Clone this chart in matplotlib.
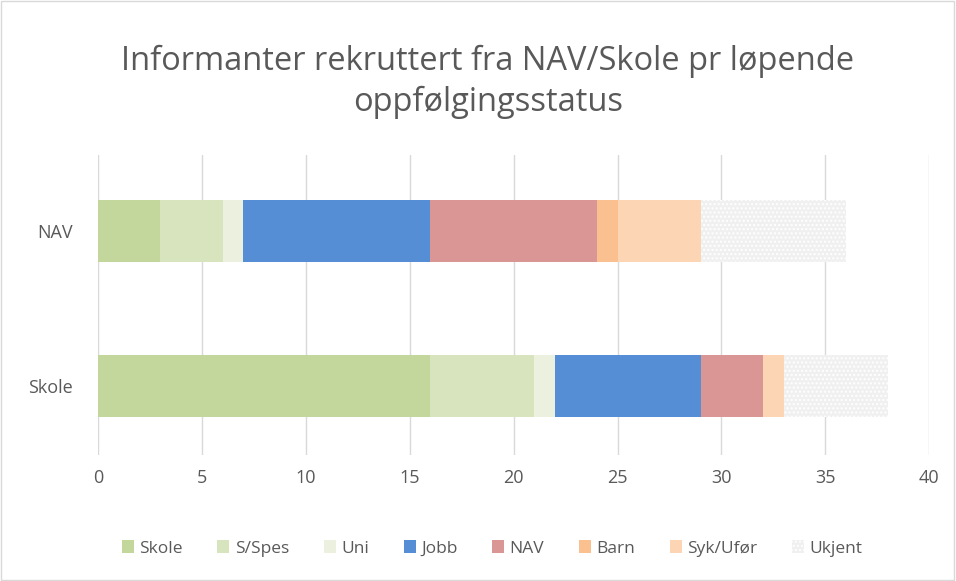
import matplotlib
matplotlib.use("Agg")
import matplotlib.pyplot as plt
from matplotlib.patches import Rectangle

categories = ["Skole", "NAV"]
series = ["Skole", "S/Spes", "Uni", "Jobb", "NAV", "Barn", "Syk/Ufør", "Ukjent"]
values = {
    "Skole":    [16, 3],
    "S/Spes":   [5, 3],
    "Uni":      [1, 1],
    "Jobb":     [7, 9],
    "NAV":      [3, 8],
    "Barn":     [0, 1],
    "Syk/Ufør": [1, 4],
    "Ukjent":   [5, 7],
}
colors = ["#c3d69b", "#d7e4bd", "#ebf1de", "#558ed5", "#d99694", "#fac090", "#fcd5b5", "#f0f0f0"]
xticks = [0, 5, 10, 15, 20, 25, 30, 35, 40]

plt.rcParams['font.family'] = ['Open Sans', 'DejaVu Sans']
plt.rcParams['hatch.color'] = 'white'
fig = plt.figure(figsize=(9.56, 5.81), dpi=100)
ax = fig.add_axes([0.1025, 0.217, 0.8695, 0.516])

left = [0, 0]
for s, c in zip(series, colors):
    v = values[s]
    if s == "Ukjent":
        kw = dict(hatch="....", edgecolor="white", linewidth=0)
    else:
        kw = dict(edgecolor="none", linewidth=0)
    ax.barh(range(len(categories)), v, left=left, height=0.4, color=c, label=s, **kw)
    left = [a + b for a, b in zip(left, v)]

ax.set_xlim(0, 40)
ax.set_ylim(-0.445, 1.49)
ax.set_xticks(xticks)
ax.set_yticks(range(len(categories)))
ax.set_yticklabels(categories)
ax.xaxis.grid(True, color="#d9d9d9", linewidth=1)
ax.set_axisbelow(True)
for sp in ax.spines.values():
    sp.set_visible(False)
ax.tick_params(axis="both", length=0, labelsize=13, colors="#595959")
ax.tick_params(axis="y", pad=18)
ax.tick_params(axis="x", pad=10)

fig.text(0.5105, 0.859, "Informanter rekruttert fra NAV/Skole pr løpende\noppfølgingsstatus",
         ha="center", va="center", fontsize=23.5, color="#595959", linespacing=1.3)

handles, labels = ax.get_legend_handles_labels()
leg = fig.legend(handles, labels, loc="center", bbox_to_anchor=(0.5146, 0.056), ncol=8,
                 frameon=False, fontsize=12.5, handlelength=0.7, handleheight=0.7,
                 handletextpad=0.3, columnspacing=2.0, labelcolor="#595959")

fig.add_artist(Rectangle((0.001, 0.001), 0.997, 0.997, transform=fig.transFigure,
                         fill=False, edgecolor="#d9d9d9", linewidth=1))
fig.savefig("out.png", dpi=100)
